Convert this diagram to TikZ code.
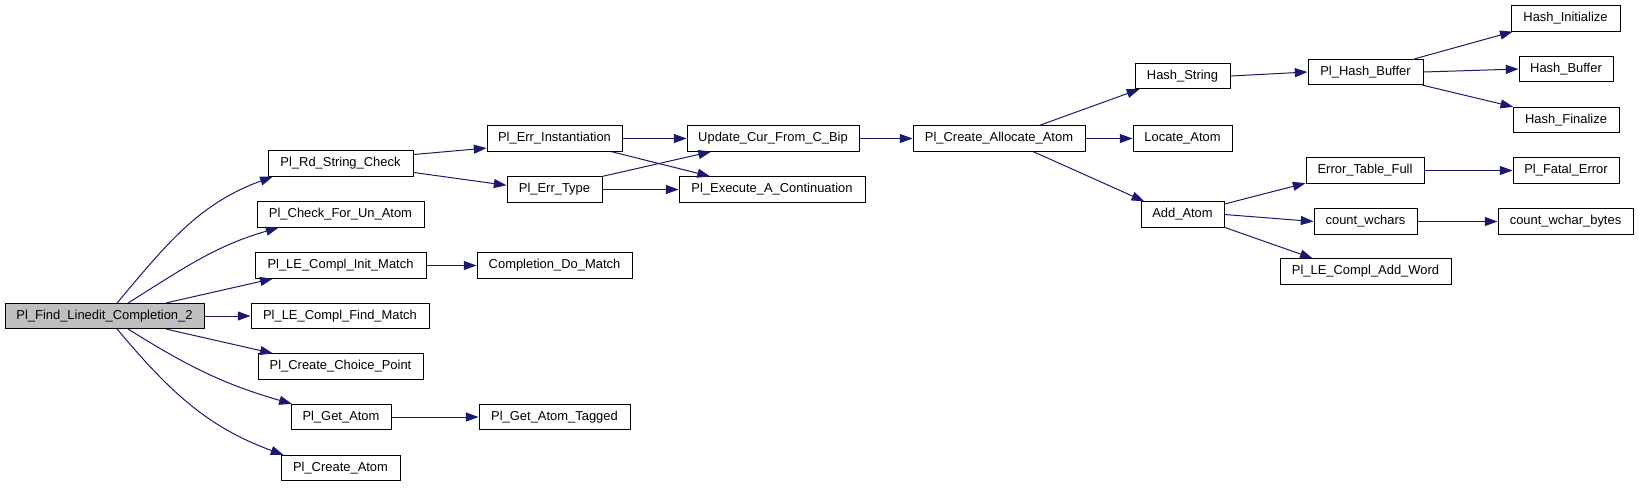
\documentclass[tikz,border=0pt]{standalone}
\usepackage{fontspec}
\setmainfont{Liberation Sans}
\usepackage{tikz}
\usetikzlibrary{arrows.meta}
\usetikzlibrary{positioning}
\definecolor{edgeblue}{HTML}{191970}
\definecolor{rootgray}{HTML}{BFBFBF}
\tikzset{fn/.style = {draw = black, line width = 0.75pt, rectangle, inner sep = 0,
                      minimum height = 19pt, font = \fontsize{9.7}{11}\selectfont}}
\tikzset{root/.style = {fn, fill = rootgray}}
\tikzset{call/.style = {draw = edgeblue, line width = 0.75pt,
                        -{Triangle[length = 9.5pt, width = 6.75pt]}}}

\begin{document}
\begin{tikzpicture}[x = 0.75pt, y = 0.75pt]
    \useasboundingbox (0, 0) rectangle (1639, -487);

    % first column
    \node [root, minimum width = 149.25pt] (main) at (104.5, -316) {Pl\_Find\_Linedit\_Completion\_2};

    % second column
    \node [fn, minimum width = 108.75pt] (rdstr) at (340.5, -163.5) {Pl\_Rd\_String\_Check};
    \node [fn, minimum width = 125.25pt] (chkun) at (340.5, -214.5) {Pl\_Check\_For\_Un\_Atom};
    \node [fn, minimum width = 128.25pt] (initm) at (340.5, -265.5) {Pl\_LE\_Compl\_Init\_Match};
    \node [fn, minimum width = 133.5pt] (findm) at (340, -316) {Pl\_LE\_Compl\_Find\_Match};
    \node [fn, minimum width = 123.75pt] (choice) at (340.5, -366.5) {Pl\_Create\_Choice\_Point};
    \node [fn, minimum width = 75pt] (getat) at (341, -417) {Pl\_Get\_Atom};
    \node [fn, minimum width = 89.25pt] (creat) at (340.5, -468) {Pl\_Create\_Atom};

    % third column
    \node [fn, minimum width = 101.25pt] (errinst) at (554.5, -138.5) {Pl\_Err\_Instantiation};
    \node [fn, minimum width = 71.25pt] (errtype) at (554.5, -189.5) {Pl\_Err\_Type};
    \node [fn, minimum width = 116.25pt] (domatch) at (554.5, -265.5) {Completion\_Do\_Match};
    \node [fn, minimum width = 113.25pt] (gettag) at (554.5, -417) {Pl\_Get\_Atom\_Tagged};

    % fourth column
    \node [fn, minimum width = 129pt] (updcur) at (773, -138.5) {Update\_Cur\_From\_C\_Bip};
    \node [fn, minimum width = 139.5pt] (execont) at (772, -189.5) {Pl\_Execute\_A\_Continuation};

    % fifth and sixth column
    \node [fn, minimum width = 129pt] (allocat) at (999, -138.5) {Pl\_Create\_Allocate\_Atom};
    \node [fn, minimum width = 71.25pt] (hashstr) at (1182.5, -76) {Hash\_String};
    \node [fn, minimum width = 74.25pt] (locat) at (1182.5, -138.5) {Locate\_Atom};
    \node [fn, minimum width = 62.25pt] (addat) at (1182.5, -214.5) {Add\_Atom};

    % seventh column
    \node [fn, minimum width = 86.25pt] (hashbuf) at (1365.5, -72) {Pl\_Hash\_Buffer};
    \node [fn, minimum width = 88.5pt] (errtab) at (1365, -170.5) {Error\_Table\_Full};
    \node [fn, minimum width = 77.25pt] (cwchars) at (1365.5, -221.5) {count\_wchars};
    \node [fn, minimum width = 128.25pt] (addword) at (1365.5, -271.5) {Pl\_LE\_Compl\_Add\_Word};

    % last column
    \node [fn, minimum width = 81.75pt] (hinit) at (1565.5, -18.5) {Hash\_Initialize};
    \node [fn, minimum width = 70.5pt] (hbuf) at (1566, -69) {Hash\_Buffer};
    \node [fn, minimum width = 79.5pt] (hfin) at (1566, -120) {Hash\_Finalize};
    \node [fn, minimum width = 79.5pt] (fatal) at (1566, -170.5) {Pl\_Fatal\_Error};
    \node [fn, minimum width = 101.25pt] (cbytes) at (1565.5, -221.5) {count\_wchar\_bytes};

    % calls out of the root
    \draw [call] (main.46) to [out = 50, in = 200] (rdstr.191);
    \draw [call] (main.29) to [out = 32, in = 196] (chkun.192);
    \draw [call] (main.12) -- (initm.191);
    \draw [call] (main.east) -- (findm.west);
    \draw [call] (main.-12) -- (choice.169);
    \draw [call] (main.-29) to [out = -32, in = 164] (getat.165);
    \draw [call] (main.-46) to [out = -50, in = 160] (creat.167);

    \draw [call] (rdstr.7) -- (errinst.188);
    \draw [call] (rdstr.-7) -- (errtype.175);
    \draw [call] (initm.east) -- (domatch.west);
    \draw [call] (getat.east) -- (gettag.west);

    \draw [call] (errinst.east) -- (updcur.west);
    \draw [call] (errinst.-13) -- (execont.168);
    \draw [call] (errtype.north east) -- (updcur.192);
    \draw [call] (errtype.east) -- (execont.west);

    \draw [call] (updcur.east) -- (allocat.west);
    \draw [call] (allocat.18) -- (hashstr.197);
    \draw [call] (allocat.east) -- (locat.west);
    \draw [call] (allocat.-21) -- (addat.161);

    \draw [call] (hashstr.east) -- (hashbuf.west);
    \draw [call] (hashbuf.15) -- (hinit.194);
    \draw [call] (hashbuf.east) -- (hbuf.west);
    \draw [call] (hashbuf.-13) -- (hfin.166);

    \draw [call] (addat.14) -- (errtab.192);
    \draw [call] (addat.east) -- (cwchars.west);
    \draw [call] (addat.-17) -- (addword.166);
    \draw [call] (errtab.east) -- (fatal.west);
    \draw [call] (cwchars.east) -- (cbytes.west);
  \end{tikzpicture}
\end{document}
